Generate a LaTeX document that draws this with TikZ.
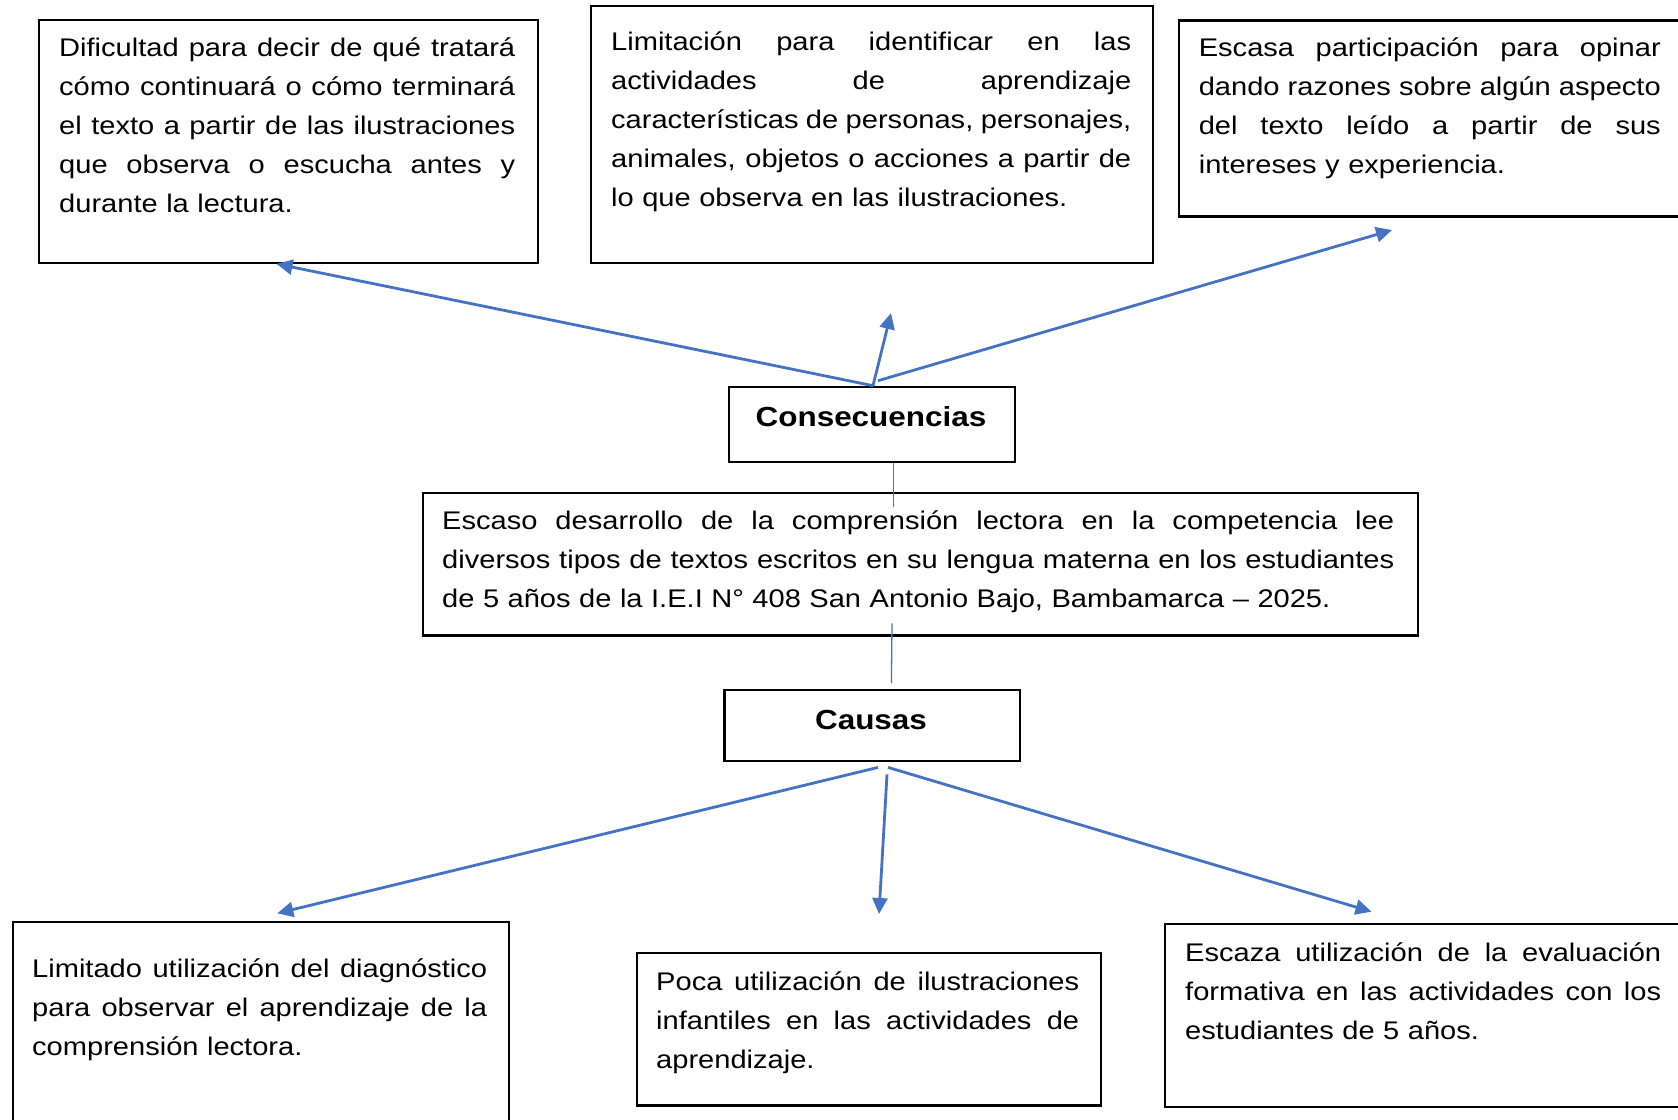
\documentclass[tikz,border=0pt]{standalone}
\usepackage{fontspec}
\setmainfont{Liberation Sans}[FakeStretch=1.14]
\usetikzlibrary{arrows.meta,calc}
\definecolor{arrowblue}{HTML}{4472C4}
\newcommand{\jl}[2]{\leavevmode\hbox to #1pt{\spaceskip=0.278em plus 3em minus 0.08em\relax #2}\\}
\begin{document}
\begin{tikzpicture}[x=1pt,y=-1pt,
  box/.style={draw=black,line width=2.4pt,inner sep=0pt,anchor=north west},
  txt/.style={anchor=base west,inner sep=0pt,font=\fontsize{25.5}{39}\selectfont},
  hdr/.style={anchor=base,inner sep=0pt,font=\bfseries\fontsize{27.6}{33}\selectfont},
  arr/.style={draw=arrowblue,line width=2.8pt,-{Triangle[length=16pt,width=15pt]}},
  thin/.style={draw=arrowblue,line width=1.3pt}]
\fill[white] (0,0) rectangle (1678,1119);
\useasboundingbox (0,0) rectangle (1678,1119);
\clip (0,0) rectangle (1678,1119);
% boxes
\node[box,minimum width=499.5pt,minimum height=243pt] (A) at (37.5,18.5) {};
\node[box,minimum width=562.5pt,minimum height=257pt] (B) at (589.5,4.7) {};
\node[box,minimum width=540pt,minimum height=196pt] (C) at (1177.6,19.3) {};
\node[box,minimum width=285.5pt,minimum height=75pt] (cons) at (728,385.7) {};
\node[box,minimum width=995pt,minimum height=142.6pt] (prob) at (421.7,491.7) {};
\node[box,minimum width=295.4pt,minimum height=70.8pt] (causas) at (723.4,689) {};
\node[box,minimum width=496.5pt,minimum height=220pt] (BL) at (11.5,921) {};
\node[box,minimum width=464.5pt,minimum height=152.6pt] (BM) at (635.5,951.7) {};
\node[box,minimum width=540pt,minimum height=183.3pt] (BR) at (1163.5,922.7) {};
% texts
\node[txt,text width=456pt] (At) at (59,56.7) {\jl{456}{Dificultad para decir de qué tratará}\jl{456}{cómo continuará o cómo terminará}\jl{456}{el texto a partir de las ilustraciones}\jl{456}{que observa o escucha antes y}durante la lectura.};
\node[txt,text width=520pt] (Bt) at (611,50.3) {\jl{520}{Limitación para identificar en las}\jl{520}{actividades de aprendizaje}\jl{520}{características de personas, personajes,}\jl{520}{animales, objetos o acciones a partir de}lo que observa en las ilustraciones.};
\node[txt,text width=462pt] (Ct) at (1198.6,56.7) {\jl{462}{Escasa participación para opinar}\jl{462}{dando razones sobre algún aspecto}\jl{462}{del texto leído a partir de sus}intereses y experiencia.};
\node[hdr] (consT) at (871,426) {Consecuencias};
\node[txt,text width=952pt] (probT) at (442,529.7) {\jl{952}{Escaso desarrollo de la comprensión lectora en la competencia lee}\jl{952}{diversos tipos de textos escritos en su lengua materna en los estudiantes}de 5 años de la I.E.I N° 408 San Antonio Bajo, Bambamarca – 2025.};
\node[hdr] (causasT) at (871,729) {Causas};
\node[txt,text width=455pt] (BLt) at (32,977) {\jl{455}{Limitado utilización del diagnóstico}\jl{455}{para observar el aprendizaje de la}comprensión lectora.};
\node[txt,text width=423pt] (BMt) at (656,990.9) {\jl{423}{Poca utilización de ilustraciones}\jl{423}{infantiles en las actividades de}aprendizaje.};
\node[txt,text width=476pt] (BRt) at (1185,961.7) {\jl{476}{Escaza utilización de la evaluación}\jl{476}{formativa en las actividades con los}estudiantes de 5 años.};
% free ends
\coordinate (t2) at (891,313);
\coordinate (t3) at (1392,230);
\coordinate (t7) at (879,914);
% connectors
\draw[arr] ($(cons.north west)+(145,0)$) -- ($(A.south west)+(239,0)$);
\draw[arr] ($(cons.north west)+(145,0)$) -- (t2);
\draw[arr] ($(cons.north west)+(150,-5)$) -- (t3);
\draw[thin] ($(cons.south west)+(165.5,0)$) -- ($(prob.north west)+(471.8,15)$);
\draw[thin] ($(prob.south west)+(470.3,-13.3)$) -- ($(causas.north west)+(168,-5.7)$);
\draw[arr] ($(causas.south west)+(154.6,5.2)$) -- ($(BL.north west)+(265.8,-7.7)$);
\draw[arr] ($(causas.south west)+(163.6,12.2)$) -- (t7);
\draw[arr] ($(causas.south west)+(164.6,5.2)$) -- ($(BR.north west)+(208,-11)$);
\end{tikzpicture}
\end{document}
